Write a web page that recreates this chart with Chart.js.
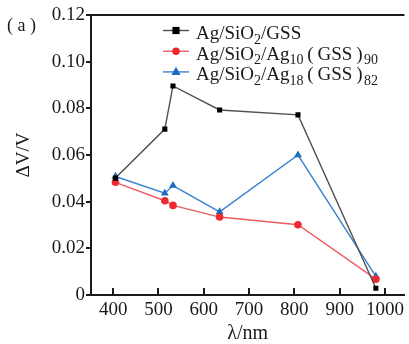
<!doctype html>
<html>
  <head>
    <meta charset="utf-8">
    <title>ΔV/V vs wavelength</title>
    <style>
      html, body {
        margin: 0;
        background: #fff;
      }
      #wrap {
        position: relative;
        width: 409px;
        height: 344px;
      }
    </style>
  </head>
  <body>
    <div id="wrap">
      <canvas id="canvas"></canvas>
    </div>

    <script src="https://cdn.jsdelivr.net/npm/chart.js@4/dist/chart.umd.min.js"></script>
    <script>
      // wavelengths of the lasers (nm)
      var wavelengths = [405, 514, 532, 635, 808, 980]
      // ΔV/V
      var gssValues  = [0.0501, 0.0711, 0.0896, 0.0793, 0.0772, 0.0029]
      var ag10Values = [0.0483, 0.0404, 0.0384, 0.0334, 0.0301, 0.0068]
      var ag18Values = [0.0508, 0.0436, 0.0469, 0.0356, 0.0600, 0.0080]

      var xTicks = [400, 500, 600, 700, 800, 900, 1000]
      var yTicks = [0, 0.02, 0.04, 0.06, 0.08, 0.10, 0.12]

      // legend labels, split into normal / subscript parts
      var gssLabel  = [['Ag/SiO'], ['2', 1], ['/GSS']]
      var ag10Label = [['Ag/SiO'], ['2', 1], ['/Ag'], ['10', 1], ['\u2009(\u2009GSS\u2009)\u200A'], ['90', 1]]
      var ag18Label = [['Ag/SiO'], ['2', 1], ['/Ag'], ['18', 1], ['\u2009(\u2009GSS\u2009)\u200A'], ['82', 1]]

      var serif = '"Liberation Serif", "Times New Roman", serif'
      var ink = '#1a1a1a'

      var series = [
        { label: gssLabel, data: gssValues, line: '#505050', mark: '#000000', style: 'rect', r: 3.6 },
        { label: ag10Label, data: ag10Values, line: '#f05c62', mark: '#ec2a30', style: 'circle', r: 3.8 },
        { label: ag18Label, data: ag18Values, line: '#3a82cf', mark: '#1f6cbf', style: 'triangle', r: 4.6 }
      ]

      var drawMark = function(ctx, style, x, y, r, color) {
        ctx.fillStyle = color
        ctx.beginPath()
        if (style === 'rect') {
          ctx.rect(x - r, y - r, r * 2, r * 2)
        } else if (style === 'circle') {
          ctx.arc(x, y, r, 0, Math.PI * 2)
        } else {
          ctx.moveTo(x, y - r * 1.1)
          ctx.lineTo(x + r, y + r * 0.65)
          ctx.lineTo(x - r, y + r * 0.65)
          ctx.closePath()
        }
        ctx.fill()
      }

      var framePlugin = {
        id: 'frame',
        afterDraw: function(chart) {
          var ctx = chart.ctx
          var ca = chart.chartArea
          var xs = chart.scales.x
          ctx.save()
          ctx.strokeStyle = ink
          ctx.lineWidth = 2
          // top frame line
          ctx.beginPath()
          ctx.moveTo(ca.left - 1, ca.top)
          ctx.lineTo(ca.right, ca.top)
          ctx.stroke()
          // inward x ticks
          xTicks.forEach(function(v) {
            var px = Math.round(xs.getPixelForValue(v))
            ctx.beginPath()
            ctx.moveTo(px, ca.bottom)
            ctx.lineTo(px, ca.bottom - 7)
            ctx.stroke()
          })
          // panel tag
          ctx.fillStyle = ink
          ctx.font = '18px ' + serif
          ctx.textBaseline = 'alphabetic'
          ctx.fillText('( a )', 7, 31)

          // legend
          series.forEach(function(s, i) {
            var y = 30.5 + i * 20.7
            ctx.strokeStyle = s.line
            ctx.lineWidth = 1.4
            ctx.beginPath()
            ctx.moveTo(163, y)
            ctx.lineTo(189, y)
            ctx.stroke()
            drawMark(ctx, s.style, 176, y, s.r, s.mark)
            var x = 196
            ctx.fillStyle = ink
            s.label.forEach(function(part) {
              if (part[1]) {
                ctx.font = '14px ' + serif
                ctx.fillText(part[0], x, y + 13)
              } else {
                ctx.font = '19px ' + serif
                ctx.fillText(part[0], x, y + 8.5)
              }
              x += ctx.measureText(part[0]).width
            })
          })
          ctx.restore()
        }
      }

      var datasets = series.map(function(s) {
        return {
          data: s.data,
          borderColor: s.line,
          borderWidth: 1.4,
          pointStyle: s.style,
          pointRadius: s.r,
          pointBackgroundColor: s.mark,
          pointBorderColor: s.mark,
          pointBorderWidth: 0,
          tension: 0
        }
      })

      var ctx = document.getElementById('canvas').getContext('2d')
      window.my_chart = new Chart(ctx, {
        type: 'line',
        data: {
          labels: wavelengths,
          datasets: datasets
        },
        plugins: [framePlugin],
        options: {
          responsive: true,
          maintainAspectRatio: false,
          animation: false,
          layout: { padding: { top: 15, left: 0, right: 0, bottom: 0 } },
          plugins: {
            legend: { display: false },
            tooltip: { enabled: false }
          },
          scales: {
            x: {
              type: 'linear',
              min: 351,
              max: 1043,
              afterBuildTicks: function(scale) {
                scale.ticks = xTicks.map(function(v) { return { value: v } })
              },
              afterFit: function(scale) { scale.height = 49 },
              grid: { display: false, drawTicks: false },
              border: { display: true, color: ink, width: 2 },
              ticks: {
                padding: 4,
                color: ink,
                font: { family: serif, size: 19 },
                maxRotation: 0,
                callback: function(v) { return String(v) }
              },
              title: {
                display: true,
                text: 'λ/nm',
                color: ink,
                font: { family: serif, size: 20, lineHeight: 1 },
                padding: { top: 0, bottom: 0 }
              }
            },
            y: {
              min: 0,
              max: 0.12,
              afterBuildTicks: function(scale) {
                scale.ticks = yTicks.map(function(v) { return { value: v } })
              },
              afterFit: function(scale) { scale.width = 91 },
              grid: {
                drawOnChartArea: false,
                drawTicks: true,
                tickLength: 5,
                color: ink,
                lineWidth: 2
              },
              border: { display: true, color: ink, width: 2 },
              ticks: {
                padding: 1,
                color: ink,
                font: { family: serif, size: 19 },
                callback: function(v) { return v === 0 ? '0' : v.toFixed(2) }
              },
              title: {
                display: true,
                text: 'ΔV/V',
                color: ink,
                font: { family: serif, size: 19, lineHeight: 1 },
                padding: { top: 15, bottom: 0 }
              }
            }
          }
        }
      })
    </script>
  </body>
</html>
